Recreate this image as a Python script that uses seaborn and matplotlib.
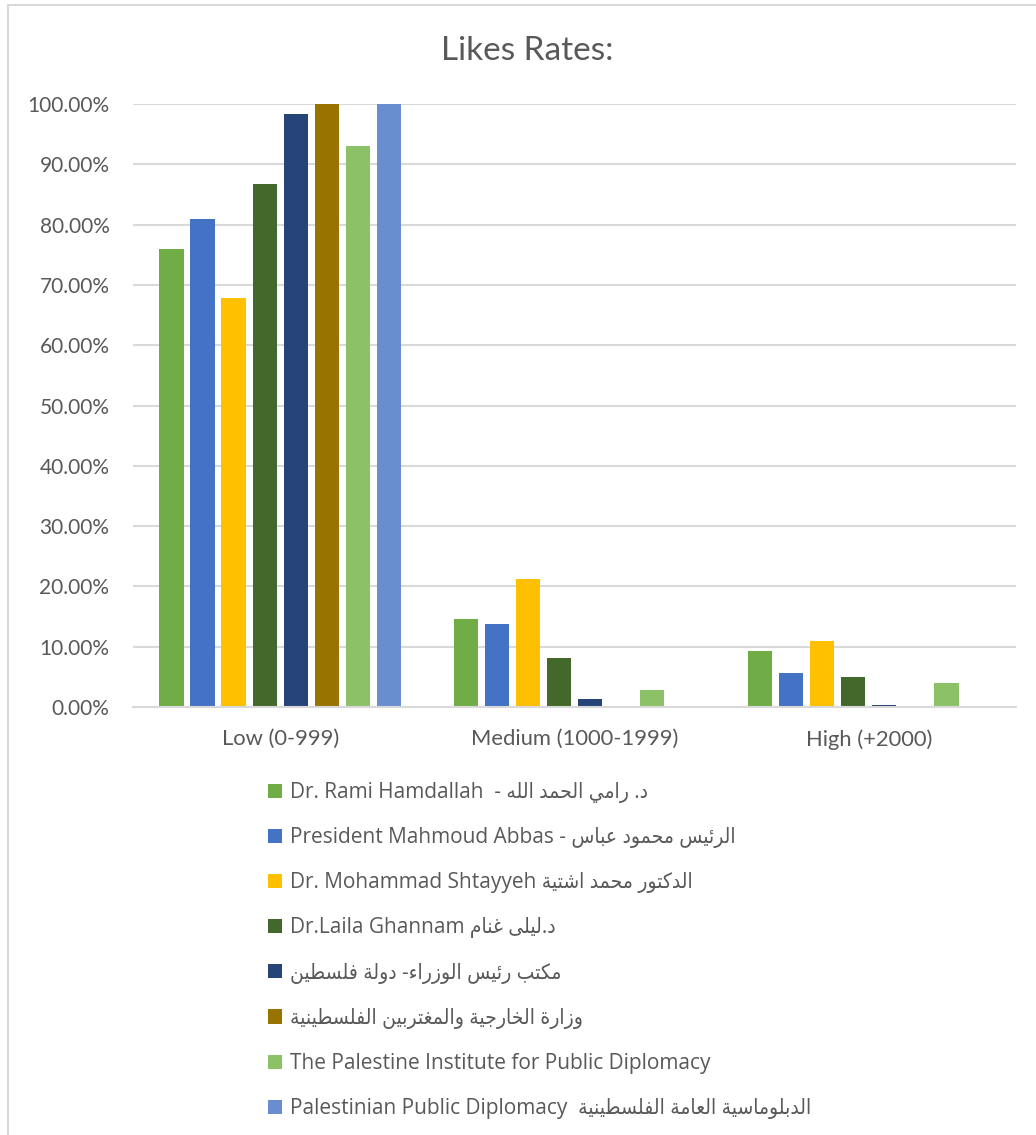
import pandas as pd
import numpy as np
import seaborn as sns
import matplotlib.pyplot as plt
from matplotlib import font_manager as fm
from matplotlib.ticker import PercentFormatter

# данные (доли)
levels = ['Low (0-999)', 'Medium (1000-1999)', 'High (+2000)']

names_en = ['Dr. Rami Hamdallah  - ', 'President Mahmoud Abbas - ', 'Dr. Mohammad Shtayyeh ',
            'Dr.Laila Ghannam ', '', '', 'The Palestine Institute for Public Diplomacy',
            'Palestinian Public Diplomacy  ']
names_ar = ['د. رامي الحمد الله', 'الرئيس محمود عباس', 'الدكتور محمد اشتية', 'د.ليلى غنام',
            'مكتب رئيس الوزراء- دولة فلسطين', 'وزارة الخارجية والمغتربين الفلسطينية', '',
            'الدبلوماسية العامة الفلسطينية']

low = [0.760, 0.810, 0.679, 0.868, 0.983, 1.000, 0.931, 1.000]
medium = [0.146, 0.138, 0.213, 0.082, 0.014, 0.000, 0.029, 0.000]
high = [0.093, 0.056, 0.109, 0.050, 0.003, 0.000, 0.039, 0.000]

colors = ['#70AD47', '#4472C4', '#FFC000', '#43682B', '#264478', '#997300', '#8CC168', '#698ED0']

# matplotlib не соединяет арабские буквы - делаем формы вручную
AR_FORMS = {
    'ء': (0xFE80, 1), 'آ': (0xFE81, 2), 'أ': (0xFE83, 2), 'ؤ': (0xFE85, 2), 'إ': (0xFE87, 2),
    'ئ': (0xFE89, 4), 'ا': (0xFE8D, 2), 'ب': (0xFE8F, 4), 'ة': (0xFE93, 2), 'ت': (0xFE95, 4),
    'ث': (0xFE99, 4), 'ج': (0xFE9D, 4), 'ح': (0xFEA1, 4), 'خ': (0xFEA5, 4), 'د': (0xFEA9, 2),
    'ذ': (0xFEAB, 2), 'ر': (0xFEAD, 2), 'ز': (0xFEAF, 2), 'س': (0xFEB1, 4), 'ش': (0xFEB5, 4),
    'ص': (0xFEB9, 4), 'ض': (0xFEBD, 4), 'ط': (0xFEC1, 4), 'ظ': (0xFEC5, 4), 'ع': (0xFEC9, 4),
    'غ': (0xFECD, 4), 'ف': (0xFED1, 4), 'ق': (0xFED5, 4), 'ك': (0xFED9, 4), 'ل': (0xFEDD, 4),
    'م': (0xFEE1, 4), 'ن': (0xFEE5, 4), 'ه': (0xFEE9, 4), 'و': (0xFEED, 2), 'ى': (0xFEEF, 2),
    'ي': (0xFEF1, 4),
}


def shape_ar(s):
    out = []
    for i, ch in enumerate(s):
        if ch not in AR_FORMS:
            out.append(ch)
            continue
        base, n = AR_FORMS[ch]
        prev = AR_FORMS.get(s[i - 1]) if i > 0 else None
        nxt = AR_FORMS.get(s[i + 1]) if i + 1 < len(s) else None
        join_prev = prev is not None and prev[1] == 4
        join_next = n == 4 and nxt is not None and nxt[1] > 1
        if n == 1:
            off = 0
        elif join_prev and join_next:
            off = 3
        elif join_next:
            off = 2
        elif join_prev:
            off = 1
        else:
            off = 0
        out.append(chr(base + off))
    return ''.join(out[::-1])  # справа налево


labels = [en + shape_ar(ar) for en, ar in zip(names_en, names_ar)]

rows = []
for lvl, vals in zip(levels, [low, medium, high]):
    for lab, v in zip(labels, vals):
        rows.append({'level': lvl, 'series': lab, 'rate': v})
df = pd.DataFrame(rows)

sns.set_style('white')
plt.rcParams['font.family'] = ['Lato', 'DejaVu Sans']
txt = '#595959'
grid = '#D9D9D9'

# узкий DejaVu для арабского текста в легенде (под отдельным именем)
ar_family = 'DejaVu Sans'
cond = [f for f in fm.fontManager.ttflist if f.fname.endswith('DejaVuSansCondensed.ttf')]
if cond:
    fm.fontManager.ttflist.append(fm.FontEntry(fname=cond[0].fname, name='DejaVu Ar Cond',
                                               style='normal', variant='normal', weight=400,
                                               stretch='normal', size='scalable'))
    ar_family = 'DejaVu Ar Cond'

fig = plt.figure(figsize=(10.36, 11.35), dpi=100)
ax = fig.add_axes([133 / 1036, 1 - 707 / 1135, 883 / 1036, 603 / 1135])

sns.barplot(data=df, x='level', y='rate', hue='series', order=levels, hue_order=labels,
            palette=colors, saturation=1, width=0.844, gap=0.22, linewidth=0, ax=ax)

ax.set_ylim(0, 1)
ax.set_xlim(-0.5, 2.5)
ax.set_yticks(np.arange(0, 1.01, 0.1))
ax.yaxis.set_major_formatter(PercentFormatter(1.0, decimals=2))
ax.grid(axis='y', color=grid, linewidth=1.5)
ax.set_axisbelow(True)
for sp in ['top', 'right', 'left']:
    ax.spines[sp].set_visible(False)
ax.spines['bottom'].set_color(grid)
ax.spines['bottom'].set_linewidth(1.5)
ax.tick_params(axis='both', length=0, labelcolor=txt)
ax.tick_params(axis='y', pad=17, labelsize=15)
ax.tick_params(axis='x', pad=16, labelsize=15.8)
ax.set_xlabel('')
ax.set_ylabel('')

fig.text(527 / 1036, 1 - 51 / 1135, 'Likes Rates:', ha='center', va='center', fontsize=24, color=txt)

h, l = ax.get_legend_handles_labels()
ax.get_legend().remove()
fig.legend(h, l, loc='upper left', bbox_to_anchor=(268 / 1036, 1 - 782 / 1135), frameon=False,
           prop={'family': ['Open Sans', ar_family], 'size': 15},
           labelcolor=txt, handlelength=0.67, handleheight=0.67, handletextpad=0.4,
           labelspacing=1.16, borderpad=0, borderaxespad=0)

# рамка области диаграммы
fig.add_artist(plt.Line2D([8 / 1036, 8 / 1036], [0, 1 - 5 / 1135], transform=fig.transFigure, color=grid, lw=1.5))
fig.add_artist(plt.Line2D([8 / 1036, 1], [1 - 5 / 1135, 1 - 5 / 1135], transform=fig.transFigure, color=grid, lw=1.5))

fig.savefig('out.png', dpi=100)
